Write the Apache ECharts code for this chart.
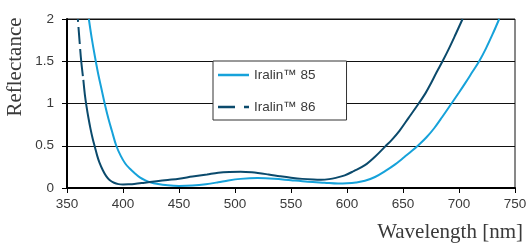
<!DOCTYPE html>
<html>
<head>
<meta charset="utf-8">
<script src="https://cdn.jsdelivr.net/npm/echarts@6/dist/echarts.min.js"></script>
<style>
  html, body { margin: 0; padding: 0; background: #fff; }
  #chart { width: 528px; height: 243px; }
</style>
</head>
<body>
<div id="chart"></div>
<script>
// wavelength [nm], reflectance
const iralin85 = [
  [369.5, 2.0], [372, 1.78], [375, 1.55], [378, 1.34], [381, 1.16],
  [384, 0.98], [387, 0.82], [390, 0.68], [394, 0.5], [398, 0.38],
  [402, 0.29], [406, 0.23], [410, 0.18], [415, 0.125], [420, 0.09],
  [425, 0.065], [430, 0.05], [440, 0.032], [450, 0.025], [462, 0.03],
  [474, 0.045], [485, 0.068], [494, 0.09], [505, 0.108], [520, 0.117],
  [535, 0.11], [550, 0.092], [565, 0.075], [580, 0.062], [592, 0.052],
  [600, 0.055], [608, 0.065], [616, 0.085], [625, 0.13], [634, 0.2],
  [643, 0.28], [651.5, 0.37], [658, 0.44], [664, 0.51], [671, 0.6],
  [678, 0.71], [685, 0.84], [693.3, 1.0], [700, 1.13], [706, 1.25],
  [712, 1.375], [718, 1.5], [724, 1.65], [730, 1.82], [735.9, 2.0]
]

// top part of Iralin 86 is dashed in the original
const iralin86Dashed = [
  [359.7, 2.0], [361.2, 1.74], [362.7, 1.5], [364.6, 1.28]
]

const iralin86 = [
  [364.6, 1.28], [366, 1.1], [367.5, 0.96], [369, 0.84], [371, 0.7],
  [373, 0.58], [375, 0.48], [377, 0.38], [379, 0.3], [382, 0.21],
  [385, 0.14], [388, 0.095], [392, 0.062], [396, 0.046], [400, 0.042],
  [405, 0.044], [410, 0.048], [418, 0.06], [430, 0.08], [440, 0.095],
  [450, 0.11], [462, 0.135], [475, 0.16], [485, 0.18], [495, 0.19],
  [505, 0.193], [515, 0.185], [530, 0.16], [540, 0.14], [550, 0.122],
  [560, 0.108], [570, 0.1], [577, 0.098], [584, 0.105], [590, 0.12],
  [598, 0.15], [606, 0.2], [616, 0.27], [625, 0.37], [634, 0.49],
  [640, 0.57], [647, 0.68], [655, 0.83], [664, 1.0], [670, 1.12],
  [675, 1.24], [680, 1.37], [685.3, 1.5], [691, 1.65], [697, 1.82],
  [703.2, 2.0]
]

const xTicks = { min: 350, max: 750, interval: 50 }
const yTicks = { min: 0, max: 2, interval: 0.5 }

const LIGHT = '#16a2da'
const DARK = '#0b4a6c'
const TEXT = '#3a3a3a'

// legend line icons, drawn in a 31 x 14 box (tiny corner squares keep the box size)
const BOX = 'M0,0h0.1v0.1h-0.1z M30.9,13.9h0.1v0.1h-0.1z '
const ICON_SOLID = 'path://' + BOX + 'M0,5.75h31v2.5h-31z'
const ICON_DASH = 'path://' + BOX + 'M0,5.75h17v2.5h-17z M26,5.75h5v2.5h-5z'

const chart = echarts.init(document.getElementById('chart'), null, { renderer: 'canvas' })

const lineBase = {
  type: 'line',
  symbol: 'none',
  showSymbol: false,
  smooth: 0.35,
  clip: true,
  animation: false
}

const option = {
  animation: false,
  grid: {
    left: 67,
    right: 13,
    top: 19,
    bottom: 55,
    show: true,
    borderColor: '#111',
    borderWidth: 1,
    outerBoundsMode: 'none'
  },
  legend: {
    orient: 'vertical',
    left: 213,
    top: 61,
    padding: [7, 31, 6, 5],
    itemWidth: 31,
    itemHeight: 14,
    itemGap: 18,
    symbolKeepAspect: false,
    backgroundColor: '#fff',
    borderColor: '#333',
    borderWidth: 1,
    textStyle: { color: TEXT, fontSize: 13.5, fontFamily: 'Liberation Sans', lineHeight: 14 },
    data: [
      { name: 'Iralin™ 85', icon: ICON_SOLID, itemStyle: { color: LIGHT } },
      { name: 'Iralin™ 86', icon: ICON_DASH, itemStyle: { color: DARK } }
    ]
  },
  xAxis: {
    type: 'value',
    min: xTicks.min,
    max: xTicks.max,
    interval: xTicks.interval,
    axisLine: { onZero: false, lineStyle: { color: '#000', width: 2 } },
    axisTick: { show: true, length: 5, lineStyle: { color: '#000', width: 1 } },
    axisLabel: { color: TEXT, fontSize: 13.5, fontFamily: 'Liberation Sans', margin: 9 },
    splitLine: { show: false }
  },
  yAxis: {
    type: 'value',
    min: yTicks.min,
    max: yTicks.max,
    interval: yTicks.interval,
    axisLine: { show: true, lineStyle: { color: '#000', width: 2 } },
    axisTick: { show: true, length: 5, lineStyle: { color: '#000', width: 1 } },
    axisLabel: { color: TEXT, fontSize: 13.5, fontFamily: 'Liberation Sans', margin: 13 },
    splitLine: { show: true, lineStyle: { color: '#111', width: 1 } }
  },
  graphic: [
    {
      type: 'text',
      x: 15,
      y: 67,
      rotation: Math.PI / 2,
      style: {
        text: 'Reflectance',
        fill: TEXT,
        font: '21px "Liberation Serif"',
        align: 'center',
        verticalAlign: 'middle'
      }
    },
    {
      type: 'text',
      x: 523,
      y: 232,
      style: {
        text: 'Wavelength [nm]',
        fill: TEXT,
        font: '21px "Liberation Serif"',
        align: 'right',
        verticalAlign: 'middle'
      }
    }
  ],
  series: [
    {
      ...lineBase,
      name: 'Iralin™ 85',
      data: iralin85,
      color: LIGHT,
      lineStyle: { color: LIGHT, width: 2 }
    },
    {
      ...lineBase,
      name: 'Iralin™ 86',
      data: iralin86Dashed,
      color: DARK,
      lineStyle: { color: DARK, width: 2, type: [3, 5, 17, 5, 27, 5] }
    },
    {
      ...lineBase,
      name: 'Iralin™ 86 solid',
      data: iralin86,
      color: DARK,
      lineStyle: { color: DARK, width: 2 }
    }
  ]
}

chart.setOption(option)
</script>
</body>
</html>
